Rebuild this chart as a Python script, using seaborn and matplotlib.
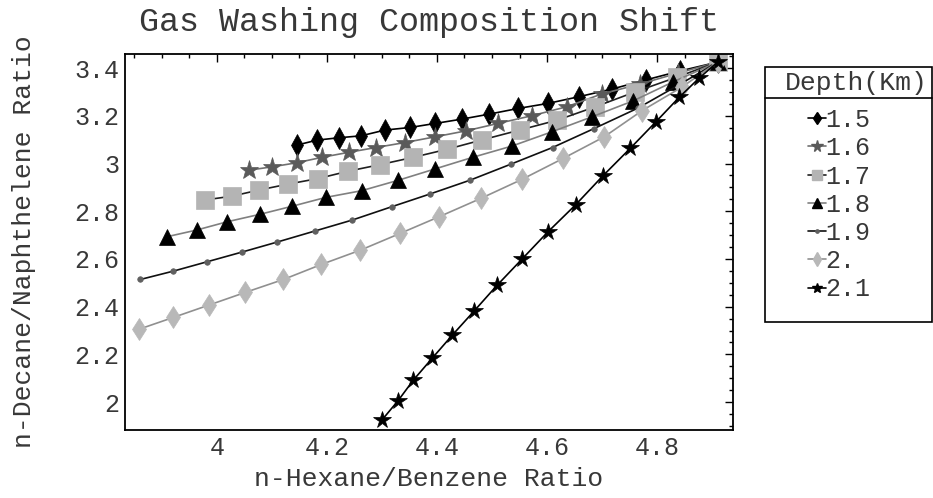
import matplotlib
matplotlib.use("Agg")
import matplotlib.pyplot as plt
import seaborn as sns
from matplotlib.ticker import MultipleLocator, FixedLocator, FixedFormatter
from matplotlib.lines import Line2D
from matplotlib.patches import Rectangle

# ---------------- data ----------------
depth_labels = ["1.5", "1.6", "1.7", "1.8", "1.9", "2.", "2.1"]

x_15 = [4.145, 4.182, 4.222, 4.262, 4.305, 4.351, 4.397, 4.445, 4.495, 4.548, 4.602, 4.658, 4.718, 4.779, 4.842, 4.910]
y_15 = [3.077, 3.098, 3.108, 3.116, 3.140, 3.151, 3.168, 3.186, 3.207, 3.231, 3.252, 3.280, 3.312, 3.350, 3.388, 3.425]

x_16 = [4.058, 4.100, 4.145, 4.191, 4.240, 4.289, 4.342, 4.397, 4.453, 4.511, 4.572, 4.636, 4.700, 4.769, 4.838, 4.910]
y_16 = [2.972, 2.986, 3.003, 3.026, 3.047, 3.067, 3.088, 3.112, 3.137, 3.168, 3.200, 3.238, 3.292, 3.333, 3.379, 3.425]

x_17 = [3.978, 4.027, 4.077, 4.130, 4.184, 4.239, 4.296, 4.357, 4.419, 4.482, 4.550, 4.619, 4.688, 4.760, 4.836, 4.911]
y_17 = [2.847, 2.863, 2.889, 2.914, 2.937, 2.968, 2.995, 3.026, 3.060, 3.099, 3.140, 3.182, 3.238, 3.300, 3.362, 3.426]

x_18 = [3.909, 3.963, 4.019, 4.078, 4.137, 4.198, 4.263, 4.330, 4.396, 4.465, 4.536, 4.609, 4.682, 4.757, 4.829, 4.910]
y_18 = [2.693, 2.721, 2.756, 2.787, 2.821, 2.858, 2.886, 2.930, 2.977, 3.026, 3.073, 3.133, 3.196, 3.263, 3.342, 3.425]

x_19 = [3.861, 3.921, 3.982, 4.046, 4.110, 4.178, 4.246, 4.318, 4.387, 4.460, 4.534, 4.610, 4.685, 4.765, 4.840, 4.910]
y_19 = [2.514, 2.549, 2.588, 2.629, 2.671, 2.717, 2.763, 2.819, 2.872, 2.930, 2.997, 3.067, 3.146, 3.232, 3.330, 3.425]

x_20 = [3.858, 3.921, 3.986, 4.052, 4.121, 4.190, 4.261, 4.333, 4.404, 4.480, 4.554, 4.629, 4.704, 4.773, 4.845, 4.910]
y_20 = [2.305, 2.355, 2.407, 2.460, 2.514, 2.577, 2.637, 2.707, 2.777, 2.854, 2.933, 3.021, 3.112, 3.222, 3.320, 3.425]

x_21 = [4.300, 4.329, 4.357, 4.391, 4.428, 4.468, 4.509, 4.554, 4.601, 4.652, 4.701, 4.751, 4.798, 4.840, 4.876, 4.910]
y_21 = [1.925, 2.005, 2.092, 2.183, 2.281, 2.383, 2.489, 2.598, 2.712, 2.827, 2.947, 3.063, 3.175, 3.277, 3.357, 3.425]

x_ticks = [4.0, 4.2, 4.4, 4.6, 4.8]
x_tick_labels = ["4", "4.2", "4.4", "4.6", "4.8"]
y_ticks = [2.0, 2.2, 2.4, 2.6, 2.8, 3.0, 3.2, 3.4]
y_tick_labels = ["2", "2.2", "2.4", "2.6", "2.8", "3", "3.2", "3.4"]

series_x = [x_15, x_16, x_17, x_18, x_19, x_20, x_21]
series_y = [y_15, y_16, y_17, y_18, y_19, y_20, y_21]

# styles: (marker, markersize, marker colour, line colour)
styles = [
    ("d", 11, "#000000", "#000000"),
    ("*", 14, "#5a5a5a", "#707070"),
    ("s", 12.5, "#b4b4b4", "#202020"),
    ("^", 11, "#000000", "#808080"),
    ("o", 4, "#606060", "#101010"),
    ("d", 11.5, "#b8b8b8", "#909090"),
    ("*", 13, "#000000", "#000000"),
]

# ---------------- figure ----------------
sns.set_theme(style="white")
plt.rcParams["font.family"] = ["Liberation Mono", "DejaVu Sans Mono"]
txt_color = "#383838"

W, H = 933, 498
fig = plt.figure(figsize=(W / 100, H / 100), dpi=100)
ax_l, ax_r, ax_t, ax_b = 125, 733, 54, 430
ax = fig.add_axes([ax_l / W, 1 - ax_b / H, (ax_r - ax_l) / W, (ax_b - ax_t) / H])

for xs, ys, lab, (m, ms, mc, lc) in zip(series_x, series_y, depth_labels, styles):
    sns.lineplot(x=xs, y=ys, ax=ax, sort=False, estimator=None, color=lc,
                 linewidth=1.2, marker=m, markersize=ms, markerfacecolor=mc,
                 markeredgecolor=mc, markeredgewidth=0.5, legend=False)

ax.set_xlim(3.833, 4.938)
ax.set_ylim(1.883, 3.459)

ax.xaxis.set_major_locator(FixedLocator(x_ticks))
ax.xaxis.set_major_formatter(FixedFormatter(x_tick_labels))
ax.yaxis.set_major_locator(FixedLocator(y_ticks))
ax.yaxis.set_major_formatter(FixedFormatter(y_tick_labels))
ax.xaxis.set_minor_locator(MultipleLocator(0.05))
ax.yaxis.set_minor_locator(MultipleLocator(0.05))
ax.tick_params(which="both", direction="in", top=True, right=True,
               colors="#000000", labelcolor=txt_color, labelsize=18, width=1.0)
ax.tick_params(which="major", length=6, pad=4)
ax.tick_params(which="minor", length=3)
for sp in ax.spines.values():
    sp.set_color("#000000")
    sp.set_linewidth(1.3)

ax.set_xlabel("n-Hexane/Benzene Ratio", fontsize=19, color=txt_color)
ax.set_ylabel("n-Decane/Naphthelene Ratio", fontsize=19, color=txt_color)
ax.xaxis.set_label_coords(0.5, (ax_b - 467) / (ax_b - ax_t))
ax.yaxis.set_label_coords((36 - ax_l) / (ax_r - ax_l), 0.5)

fig.text(429 / W, 1 - 22 / H, "Gas Washing Composition Shift", ha="center",
         va="center", fontsize=24, color=txt_color)

# ---------------- legend ----------------
bx0, by0, bx1, by1 = 765, 67, 931.5, 322
fig.add_artist(Rectangle((bx0 / W, 1 - by1 / H), (bx1 - bx0) / W, (by1 - by0) / H,
                         transform=fig.transFigure, fill=False, edgecolor="#000000", lw=1.2))
fig.add_artist(Line2D([bx0 / W, bx1 / W], [1 - 98 / H, 1 - 98 / H],
                      transform=fig.transFigure, color="#000000", lw=1.2))
fig.text(856 / W, 1 - 83 / H, "Depth(Km)", ha="center", va="center",
         fontsize=19, color=txt_color)

handles = [Line2D([], [], color=lc, lw=1.2, marker=m, markersize=ms * 0.6,
                  markerfacecolor=mc, markeredgecolor=mc)
           for (m, ms, mc, lc) in styles]
fig.legend(handles, depth_labels, loc="upper left",
           bbox_to_anchor=(808 / W, 1 - 108 / H), frameon=False,
           handlelength=0.7, handletextpad=0.0, labelspacing=0.17,
           fontsize=18, borderpad=0, borderaxespad=0, labelcolor=txt_color)

fig.savefig("out.png", dpi=100)
